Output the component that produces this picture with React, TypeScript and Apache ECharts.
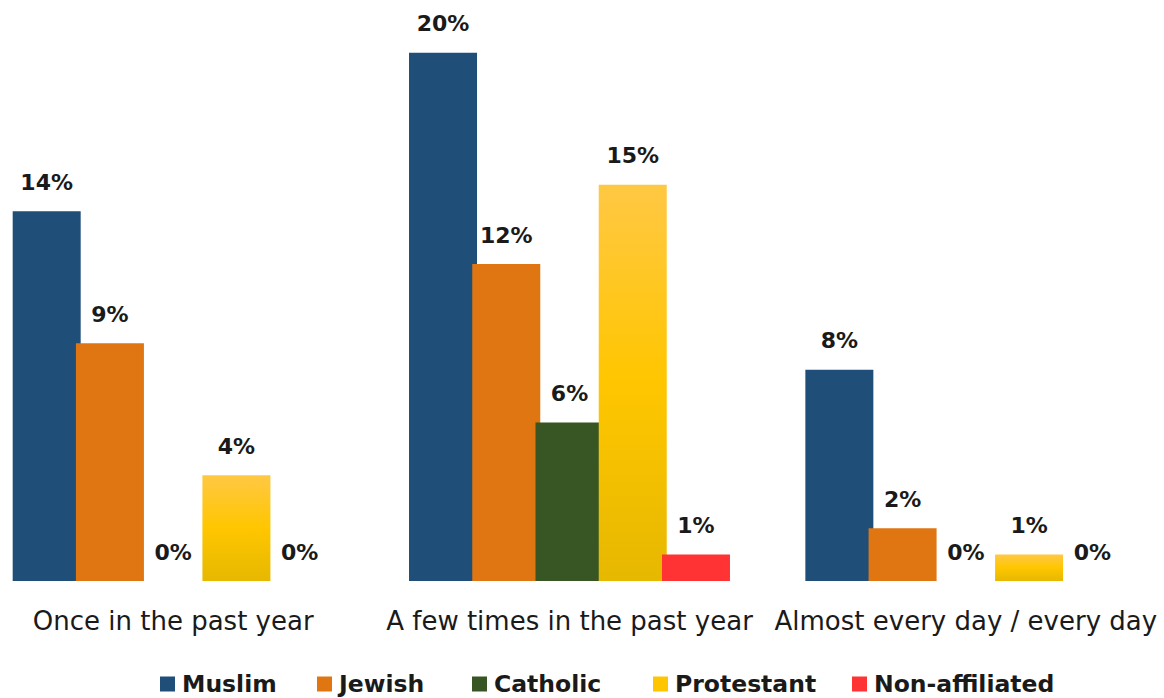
import React, { useEffect, useRef } from "react";
import * as echarts from "echarts";

const categories = [
  "Once in the past year",
  "A few times in the past year",
  "Almost every day / every day",
];
const seriesNames = ["Muslim", "Jewish", "Catholic", "Protestant", "Non-affiliated"];
const muslim = [14, 20, 8];
const jewish = [9, 12, 2];
const catholic = [0, 6, 0];
const protestant = [4, 15, 1];
const nonAffiliated = [0, 1, 0];

const FONT = "'DejaVu Sans', sans-serif";
const SHIFT = 25;
const legendLefts = [155, 312, 467, 648, 847];

export default function App() {
  const ref = useRef<HTMLDivElement>(null);
  useEffect(() => {
    if (!ref.current) return;
    const chart = echarts.init(ref.current, null, { renderer: "svg" });
    const protestantGrad = new echarts.graphic.LinearGradient(0, 0, 0, 1, [
      { offset: 0, color: "#FFC843" },
      { offset: 0.5, color: "#FFC600" },
      { offset: 1, color: "#E6B800" },
    ]);
    const colors = ["#1F4E79", "#DF7611", "#375623", protestantGrad, "#FF3333"];
    const legendColors = ["#1F4E79", "#DF7611", "#375623", "#FFC600", "#FF3333"];
    const values = [muslim, jewish, catholic, protestant, nonAffiliated];
    const series = seriesNames.map((name, i) => ({
      name,
      type: "bar",
      data: values[i],
      barWidth: 68,
      barGap: "-7%",
      itemStyle: { color: colors[i] },
      label: {
        show: true,
        position: "top",
        distance: 18,
        formatter: "{c}%",
        fontFamily: FONT,
        fontSize: 22,
        fontWeight: "bold",
        color: "#1a1a1a",
      },
    }));
    const legends = seriesNames.map((n, i) => ({
      data: [{ name: n, itemStyle: { color: legendColors[i] } }],
      left: legendLefts[i] + SHIFT,
      top: 667,
      icon: "rect",
      itemWidth: 15,
      itemHeight: 15,
      selectedMode: false,
      textStyle: {
        fontFamily: FONT,
        fontSize: 23.5,
        fontWeight: "bold",
        color: "#1a1a1a",
        padding: [0, 0, 0, 2],
      },
    }));
    chart.setOption({
      animation: false,
      color: legendColors,
      grid: { left: 0, right: 0, top: 0, bottom: 117, containLabel: false },
      legend: legends,
      xAxis: {
        type: "category",
        data: categories,
        axisLine: { show: false },
        axisTick: { show: false },
        axisLabel: {
          fontFamily: FONT,
          fontSize: 26,
          color: "#1a1a1a",
          margin: 27,
          interval: 0,
        },
      },
      yAxis: {
        type: "value",
        min: 0,
        max: 22,
        show: false,
        splitLine: { show: false },
      },
      series,
    });
    return () => chart.dispose();
  }, []);
  return (
    <div style={{ position: "fixed", left: 0, top: 0, width: 1164, height: 698, overflow: "hidden", background: "#fff" }}>
      <div
        ref={ref}
        style={{ position: "absolute", left: -SHIFT, top: 0, width: 1164 + SHIFT, height: 698 }}
      />
    </div>
  );
}
